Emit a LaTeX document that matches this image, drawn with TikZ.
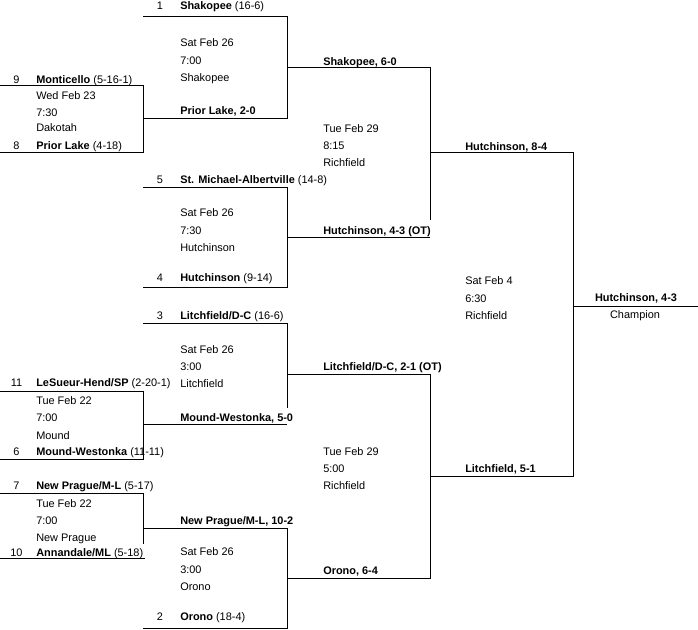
\documentclass[tikz,border=0pt]{standalone}
\usepackage{fontspec}
\setmainfont{Liberation Sans}
\usepackage{tikz}

\begin{document}
\begin{tikzpicture}[x=0.75pt,y=0.75pt,yscale=-1,xscale=1,
  every node/.style={font=\fontsize{8.2}{10}\selectfont, inner sep=0pt},
  lbl/.style={anchor=base west},
  seed/.style={anchor=base},
  win/.style={anchor=base west, font=\fontsize{8.2}{10}\selectfont\bfseries},
  bracket/.style={line width=0.75pt}]
\useasboundingbox (0,0) rectangle (698,630);

%Round 1 slots
\coordinate (m9l) at (0,86);    \coordinate (m9r) at (143,86);
\coordinate (p8l) at (0,153);   \coordinate (p8r) at (143,153);
\coordinate (l11l) at (0,391);  \coordinate (l11r) at (143,391);
\coordinate (w6l) at (0,459);   \coordinate (w6r) at (143,459);
\coordinate (n7l) at (0,493);   \coordinate (n7r) at (143,493);
\coordinate (a10l) at (0,558);  \coordinate (a10r) at (145,558);
\coordinate (a10g) at (143,544);
%Round 2 slots
\coordinate (s1l) at (143,17);  \coordinate (s1r) at (287,17);
\coordinate (g1l) at (143,119); \coordinate (g1r) at (287,119);
\coordinate (m5l) at (143,188); \coordinate (m5r) at (287,188);
\coordinate (h4l) at (143,288); \coordinate (h4r) at (287,288);
\coordinate (l3l) at (143,323); \coordinate (l3r) at (287,323);
\coordinate (l3g) at (287,408);
\coordinate (g2l) at (143,424); \coordinate (g2r) at (287,424);
\coordinate (g3l) at (143,528); \coordinate (g3r) at (287,528);
\coordinate (o2l) at (143,628); \coordinate (o2r) at (287,628);
%Quarterfinal winners
\coordinate (q1l) at (287,68);  \coordinate (q1r) at (430,68);
\coordinate (q1g) at (430,220);
\coordinate (q2l) at (287,238); \coordinate (q2r) at (430,238);
\coordinate (q3l) at (287,374); \coordinate (q3r) at (430,374);
\coordinate (q4l) at (287,578); \coordinate (q4r) at (430,578);
%Semifinal winners
\coordinate (f1l) at (430,153); \coordinate (f1r) at (573,153);
\coordinate (f2l) at (430,476); \coordinate (f2r) at (573,476);
%Champion
\coordinate (chl) at (573,307); \coordinate (chr) at (698,307);

%Bracket lines
\draw[bracket] (m9l) -- (m9r) -- (p8r) -- (p8l);
\draw[bracket] (l11l) -- (l11r) -- (w6r) -- (w6l);
\draw[bracket] (n7l) -- (n7r) -- (a10g);
\draw[bracket] (a10l) -- (a10r);
\draw[bracket] (s1l) -- (s1r) -- (g1r) -- (g1l);
\draw[bracket] (m5l) -- (m5r) -- (h4r) -- (h4l);
\draw[bracket] (l3l) -- (l3r) -- (l3g);
\draw[bracket] (g2l) -- (g2r);
\draw[bracket] (g3l) -- (g3r) -- (o2r) -- (o2l);
\draw[bracket] (q1l) -- (q1r) -- (q1g);
\draw[bracket] (q2l) -- (q2r);
\draw[bracket] (q3l) -- (q3r) -- (q4r) -- (q4l);
\draw[bracket] (f1l) -- (f1r) -- (f2r) -- (f2l);
\draw[bracket] (chl) -- (chr);

% Text Node - round 1
\node[seed] (n9) at (16.5,84) {9};
\node[lbl] (t9) at (36,84) {\textbf{Monticello} (5-16-1)};
\node[lbl] (d1a) at (36,100) {Wed Feb 23};
\node[lbl] (d1b) at (36,116.5) {7:30};
\node[lbl] (d1c) at (36,132) {Dakotah};
\node[seed] (n8) at (16.5,149.5) {8};
\node[lbl] (t8) at (36,149.5) {\textbf{Prior Lake} (4-18)};

\node[seed] (n11) at (16.5,386.5) {11};
\node[lbl] (t11) at (36,386.5) {\textbf{LeSueur-Hend/SP} (2-20-1)};
\node[lbl] (d2a) at (36,404) {Tue Feb 22};
\node[lbl] (d2b) at (36,421) {7:00};
\node[lbl] (d2c) at (36,439) {Mound};
\node[seed] (n6) at (16.5,455.5) {6};
\node[lbl] (t6) at (36,455.5) {\textbf{Mound-Westonka} (11-11)};

\node[seed] (n7) at (16.5,489.5) {7};
\node[lbl] (t7) at (36,489.5) {\textbf{New Prague/M-L} (5-17)};
\node[lbl] (d3a) at (36,507) {Tue Feb 22};
\node[lbl] (d3b) at (36,524) {7:00};
\node[lbl] (d3c) at (36,541) {New Prague};
\node[seed] (n10) at (16.5,556) {10};
\node[lbl] (t10) at (36,556) {\textbf{Annandale/ML} (5-18)};

% Text Node - round 2
\node[seed] (n1) at (160,10) {1};
\node[lbl] (t1) at (180,10) {\textbf{Shakopee} (16-6)};
\node[lbl] (e1a) at (180,47) {Sat Feb 26};
\node[lbl] (e1b) at (180,65) {7:00};
\node[lbl] (e1c) at (180,82) {Shakopee};
\node[win] (w1) at (180,115) {Prior Lake, 2-0};

\node[seed] (n5) at (160,184) {5};
\node[lbl] (t5) at (180,184) {\textbf{St. Michael-Albertville} (14-8)};
\node[lbl] (e2a) at (180,217) {Sat Feb 26};
\node[lbl] (e2b) at (180,234.5) {7:30};
\node[lbl] (e2c) at (180,252) {Hutchinson};
\node[seed] (n4) at (160,282) {4};
\node[lbl] (t4) at (180,282) {\textbf{Hutchinson} (9-14)};

\node[seed] (n3) at (160,319.5) {3};
\node[lbl] (t3) at (180,319.5) {\textbf{Litchfield/D-C} (16-6)};
\node[lbl] (e3a) at (180,353) {Sat Feb 26};
\node[lbl] (e3b) at (180,370.5) {3:00};
\node[lbl] (e3c) at (180,387) {Litchfield};
\node[win] (w2) at (180,421) {Mound-Westonka, 5-0};

\node[win] (w3) at (180,524.5) {New Prague/M-L, 10-2};
\node[lbl] (e4a) at (180,555.5) {Sat Feb 26};
\node[lbl] (e4b) at (180,573) {3:00};
\node[lbl] (e4c) at (180,590) {Orono};
\node[seed] (n2) at (160,620.5) {2};
\node[lbl] (t2) at (180,620.5) {\textbf{Orono} (18-4)};

% Text Node - quarterfinals
\node[win] (v1) at (323,65.5) {Shakopee, 6-0};
\node[lbl] (s1a) at (323,133) {Tue Feb 29};
\node[lbl] (s1b) at (323,149.5) {8:15};
\node[lbl] (s1c) at (323,166.5) {Richfield};
\node[win] (v2) at (323,235) {Hutchinson, 4-3 (OT)};
\node[win] (v3) at (323,370.5) {Litchfield/D-C, 2-1 (OT)};
\node[lbl] (s2a) at (323,455.5) {Tue Feb 29};
\node[lbl] (s2b) at (323,472) {5:00};
\node[lbl] (s2c) at (323,489) {Richfield};
\node[win] (v4) at (323,574) {Orono, 6-4};

% Text Node - semifinals and final
\node[win] (u1) at (465,150.5) {Hutchinson, 8-4};
\node[lbl] (fa) at (465,285) {Sat Feb 4};
\node[lbl] (fb) at (465,302) {6:30};
\node[lbl] (fc) at (465,319.5) {Richfield};
\node[win] (u2) at (465,472) {Litchfield, 5-1};
\node[seed, font=\fontsize{8.2}{10}\selectfont\bfseries] (champ) at (636,301) {Hutchinson, 4-3};
\node[seed] (champl) at (635,319) {Champion};

\end{tikzpicture}
\end{document}
